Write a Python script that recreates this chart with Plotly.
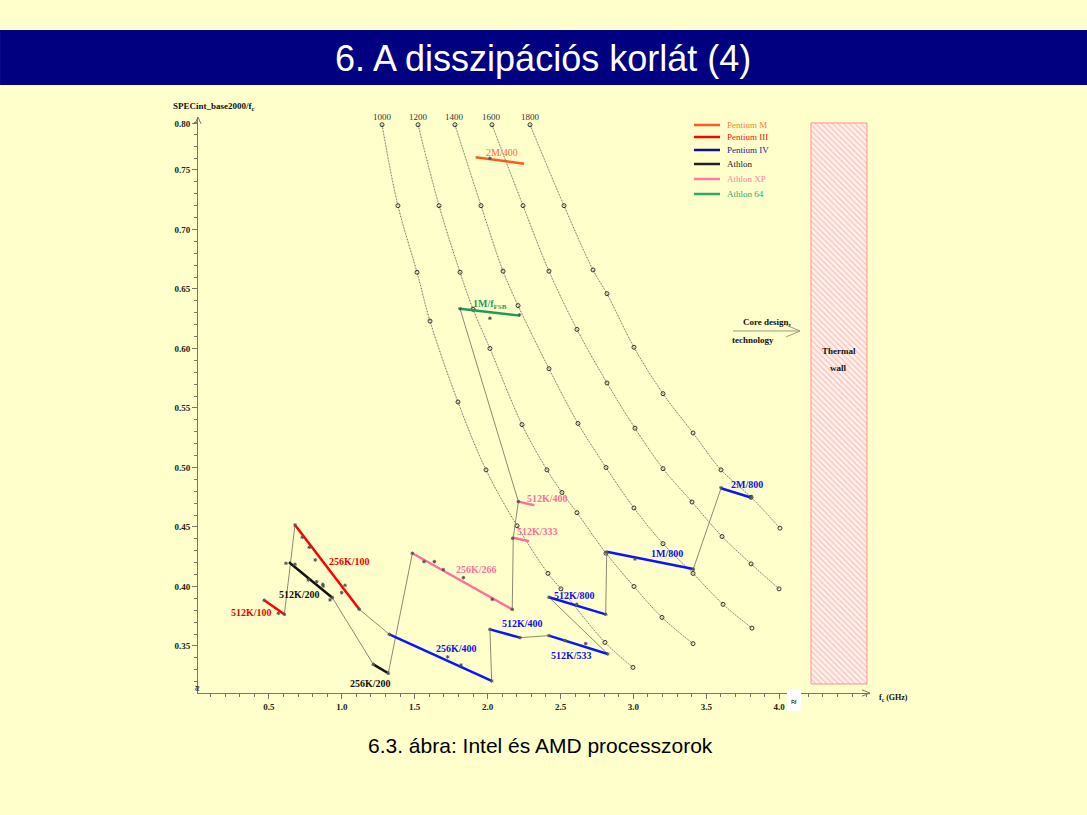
import plotly.graph_objects as go

SERIF = 'Liberation Serif, Times New Roman, serif'
SANS = 'Liberation Sans, Arial, sans-serif'
BG = '#ffffcc'

# iso-performance curves, SPECint_base2000 = const, dots
iso_labels = ['1000', '1200', '1400', '1600', '1800']
f_1000 = [1.276, 1.385, 1.516, 1.605, 1.797, 1.989, 2.202, 2.414, 2.503, 2.805, 2.997]
y_1000 = [0.788, 0.720, 0.664, 0.623, 0.555, 0.498, 0.451, 0.411, 0.398, 0.353, 0.332]
f_1200 = [1.523, 1.667, 1.811, 1.900, 2.016, 2.236, 2.407, 2.510, 2.613, 2.812, 3.004, 3.196, 3.409]
y_1200 = [0.788, 0.720, 0.664, 0.633, 0.600, 0.536, 0.498, 0.479, 0.462, 0.428, 0.400, 0.374, 0.352]
f_1400 = [1.776, 1.955, 2.106, 2.209, 2.421, 2.620, 2.812, 3.004, 3.203, 3.409, 3.615, 3.813]
y_1400 = [0.788, 0.720, 0.665, 0.636, 0.583, 0.537, 0.500, 0.466, 0.436, 0.411, 0.385, 0.365]
f_1600 = [2.030, 2.243, 2.421, 2.613, 2.819, 3.011, 3.203, 3.402, 3.608, 3.807, 3.999]
y_1600 = [0.788, 0.720, 0.665, 0.616, 0.571, 0.533, 0.499, 0.471, 0.442, 0.419, 0.398]
f_1800 = [2.291, 2.524, 2.723, 2.819, 3.004, 3.203, 3.409, 3.601, 3.807, 4.005]
y_1800 = [0.788, 0.720, 0.666, 0.646, 0.601, 0.562, 0.529, 0.498, 0.475, 0.449]

# processor families and their segments (start -> end)
families = ['Pentium M', 'Pentium III', 'Pentium IV', 'Athlon', 'Athlon XP', 'Athlon 64']
seg_labels = ['2M/400', '512K/100', '256K/100', '256K/400', '512K/400', '512K/533', '512K/800',
              '1M/800', '2M/800', '512K/200', '256K/200', '256K/266', '512K/333', '512K/400',
              '1M/f<sub>FSB</sub>']
seg_family = ['Pentium M', 'Pentium III', 'Pentium III', 'Pentium IV', 'Pentium IV', 'Pentium IV',
              'Pentium IV', 'Pentium IV', 'Pentium IV', 'Athlon', 'Athlon', 'Athlon XP', 'Athlon XP',
              'Athlon XP', 'Athlon 64']
seg_f0 = [1.918, 0.468, 0.679, 1.326, 2.016, 2.421, 2.421, 2.817, 3.601, 0.638, 1.216, 1.484, 2.176, 2.211, 1.811]
seg_y0 = [0.7607, 0.3884, 0.4517, 0.3598, 0.3640, 0.3587, 0.3909, 0.4292, 0.4825, 0.4203, 0.3346, 0.4279, 0.4410, 0.4713, 0.6334]
seg_f1 = [2.250, 0.606, 1.120, 2.028, 2.222, 2.824, 2.810, 3.411, 3.811, 0.935, 1.319, 2.169, 2.284, 2.320, 2.222]
seg_y1 = [0.7553, 0.3766, 0.3808, 0.3206, 0.3570, 0.3433, 0.3766, 0.4147, 0.4746, 0.3906, 0.3271, 0.3808, 0.4380, 0.4682, 0.6276]

# thin grey trajectories linking the segments
intel_f = [0.468, 0.606, 0.679, 1.120, 1.326, 2.028, 2.016, 2.222, 2.421, 2.824, 2.421, 2.810, 2.817, 3.411, 3.601, 3.811]
intel_y = [0.3884, 0.3766, 0.4517, 0.3808, 0.3598, 0.3206, 0.3640, 0.3570, 0.3587, 0.3433, 0.3909, 0.3766, 0.4292, 0.4147, 0.4825, 0.4746]
amd_f = [0.638, 0.935, 1.216, 1.319, 1.484, 2.169, 2.176, 2.211, 1.811, 2.222]
amd_y = [0.4203, 0.3906, 0.3346, 0.3271, 0.4279, 0.3808, 0.4410, 0.4713, 0.6334, 0.6276]

# individual processor points
cpu_f = [0.468, 0.565, 0.606, 0.679, 0.729, 0.777, 0.818, 0.873, 0.999, 1.022, 1.120,
         0.617, 0.679, 0.770, 0.828, 0.869, 0.919, 0.935, 1.216, 1.319,
         1.484, 1.564, 1.635, 1.696, 1.834, 2.032, 2.169, 2.172, 2.211,
         1.326, 1.726, 1.818, 2.028, 2.016, 2.222, 2.421, 2.531, 2.673, 2.824,
         2.421, 2.611, 2.810, 2.817, 3.011, 3.411, 3.601, 3.807,
         2.016, 1.811, 2.016, 2.218]
cpu_y = [0.3884, 0.3775, 0.3766, 0.4517, 0.4413, 0.4329, 0.4223, 0.4004, 0.3948, 0.4010, 0.3808,
         0.4195, 0.4187, 0.4055, 0.4040, 0.4018, 0.3887, 0.3906, 0.3346, 0.3271,
         0.4279, 0.4209, 0.4209, 0.4141, 0.4074, 0.3892, 0.3808, 0.4405, 0.4713,
         0.3598, 0.3408, 0.3340, 0.3206, 0.3640, 0.3570, 0.3587, 0.3545, 0.3520, 0.3433,
         0.3910, 0.3850, 0.3766, 0.4287, 0.4231, 0.4145, 0.4830, 0.4746,
         0.7598, 0.6334, 0.6254, 0.6282]

# thermal wall band
wall_f = [4.218, 4.602]
wall_y = [0.3181, 0.7895]

x_ticks = [0.5, 1.0, 1.5, 2.0, 2.5, 3.0, 3.5, 4.0]
y_ticks = [0.35, 0.40, 0.45, 0.50, 0.55, 0.60, 0.65, 0.70, 0.75, 0.789]
y_tick_text = ['0.35', '0.40', '0.45', '0.50', '0.55', '0.60', '0.65', '0.70', '0.75', '0.80']

family_colors = {
    'Pentium M': '#ff5a1e',
    'Pentium III': '#ff0000',
    'Pentium IV': '#0a14ff',
    'Athlon': '#111111',
    'Athlon XP': '#ff6f9a',
    'Athlon 64': '#1f9a5a',
}
legend_line_colors = {
    'Pentium M': '#ff5a1e', 'Pentium III': '#ff0000', 'Pentium IV': '#101090',
    'Athlon': '#222222', 'Athlon XP': '#ff7aa4', 'Athlon 64': '#30a868',
}
legend_text_colors = {
    'Pentium M': '#ff7a40', 'Pentium III': '#ff1010', 'Pentium IV': '#1a1a90',
    'Athlon': '#222222', 'Athlon XP': '#ff80a8', 'Athlon 64': '#30a868',
}
label_colors = {
    'Pentium M': '#ff6a30', 'Pentium III': '#ee0000', 'Pentium IV': '#1010ee',
    'Athlon': '#111111', 'Athlon XP': '#ff6f9a', 'Athlon 64': '#1f9a5a',
}

fig = go.Figure()

iso_f = [f_1000, f_1200, f_1400, f_1600, f_1800]
iso_y = [y_1000, y_1200, y_1400, y_1600, y_1800]
for lab, fs, ys in zip(iso_labels, iso_f, iso_y):
    fig.add_trace(go.Scatter(x=fs, y=ys, mode='lines', showlegend=False, hoverinfo='skip',
                             line=dict(color='#d4d0b0', width=1, shape='spline')))
    fig.add_trace(go.Scatter(x=fs, y=ys, mode='lines+markers', showlegend=False, name=lab,
                             line=dict(color='#6e6e5e', width=1, dash='1px,2px', shape='spline'),
                             marker=dict(symbol='circle-open', size=4, color='#333333', line=dict(width=1))))

for px, py in [(intel_f, intel_y), (amd_f, amd_y)]:
    fig.add_trace(go.Scatter(x=px, y=py, mode='lines', showlegend=False, hoverinfo='skip',
                             line=dict(color='#8c8a72', width=1)))

fig.add_trace(go.Scatter(x=wall_f + wall_f[::-1] + wall_f[:1],
                         y=[wall_y[0], wall_y[0], wall_y[1], wall_y[1], wall_y[0]],
                         mode='lines', fill='toself', showlegend=False, hoverinfo='skip',
                         line=dict(color='#ff9090', width=1),
                         fillpattern=dict(shape='\\', fgcolor='#ff8080', bgcolor='#fff4ec',
                                          size=4, solidity=0.3)))

for fam in families:
    xs, ys = [], []
    for i, sf in enumerate(seg_family):
        if sf == fam:
            xs += [seg_f0[i], seg_f1[i], None]
            ys += [seg_y0[i], seg_y1[i], None]
    fig.add_trace(go.Scatter(x=xs, y=ys, mode='lines', name=fam, showlegend=False,
                             line=dict(color=family_colors[fam], width=2.5)))

fig.add_trace(go.Scatter(x=cpu_f, y=cpu_y, mode='markers', showlegend=False,
                         marker=dict(symbol='asterisk-open', size=3, color='#555555',
                                     line=dict(width=1, color='#555555'))))

# segment labels
label_pos = [(2.097, 0.7645), (0.379, 0.3780), (1.056, 0.4208), (1.788, 0.3475), (2.238, 0.3687),
             (2.577, 0.3418), (2.593, 0.3926), (3.233, 0.4276), (3.777, 0.4853), (0.708, 0.3929),
             (1.198, 0.3189), (1.925, 0.4141), (2.344, 0.4461), (2.409, 0.4741), (2.016, 0.6366)]
annotations = []
for lab, fam, (ax_, ay_) in zip(seg_labels, seg_family, label_pos):
    txt = lab if fam == 'Pentium M' else f'<b>{lab}</b>'
    annotations.append(dict(x=ax_, y=ay_, text=txt, showarrow=False,
                            font=dict(family=SERIF, size=10, color=label_colors[fam])))

for lab, fs, ys in zip(iso_labels, iso_f, iso_y):
    annotations.append(dict(x=fs[0], y=ys[0], text=lab, showarrow=False, yanchor='bottom', yshift=1,
                            font=dict(family=SERIF, size=9, color='#333333')))

# hand-drawn legend (rows are tighter than plotly's own legend allows)
legend_rows_y = [0.9861, 0.9653, 0.9427, 0.9184, 0.8924, 0.8663]
shapes = []
for fam, ly in zip(families, legend_rows_y):
    shapes.append(dict(type='line', xref='paper', yref='paper', x0=0.738, x1=0.7768, y0=ly, y1=ly,
                       line=dict(color=legend_line_colors[fam], width=2.5)))
    annotations.append(dict(x=0.784, y=ly, xref='paper', yref='paper', xanchor='left', yanchor='middle',
                            text=fam, showarrow=False,
                            font=dict(family=SERIF, size=9, color=legend_text_colors[fam])))

annotations += [
    dict(x=3.916, y=0.6223, text='<b>Core design,</b>', showarrow=False,
         font=dict(family=SERIF, size=9, color='#111111')),
    dict(x=3.820, y=0.6071, text='<b>technology</b>', showarrow=False,
         font=dict(family=SERIF, size=9, color='#111111')),
    dict(x=4.41, y=0.5981, text='<b>Thermal</b>', showarrow=False,
         font=dict(family=SERIF, size=9, color='#111111')),
    dict(x=4.41, y=0.5838, text='<b>wall</b>', showarrow=False,
         font=dict(family=SERIF, size=9, color='#111111')),
    # title and caption
    dict(x=0.514, y=1.1024, xref='paper', yref='paper', xanchor='center', yanchor='middle',
         text='6. A disszipációs korlát (4)',
         showarrow=False, font=dict(family=SANS, size=36, color='white')),
    dict(x=0.509, y=-0.092, xref='paper', yref='paper', xanchor='center', yanchor='middle',
         text='6.3. ábra: Intel és AMD processzorok',
         showarrow=False, font=dict(family=SANS, size=21, color='black')),
    # axis titles
    dict(x=-0.04, y=1.019, xref='paper', yref='paper', xanchor='left', yanchor='middle',
         text='<b>SPECint_base2000/f<sub>c</sub></b>', showarrow=False,
         font=dict(family=SERIF, size=9, color='#111111')),
    dict(x=1.01, y=-0.0087, xref='paper', yref='paper', xanchor='left', yanchor='middle',
         text='<b>f<sub>c</sub></b> <b>(GHz)</b>', showarrow=False,
         font=dict(family=SERIF, size=8, color='#111111')),
    dict(x=0.8869, y=-0.0156, xref='paper', yref='paper', xanchor='center', yanchor='middle',
         text='<b>≈</b>', showarrow=False,
         font=dict(family=SERIF, size=10, color='#111111')),
    dict(x=0.0, y=0.008, xref='paper', yref='paper', xanchor='center', yanchor='middle',
         text='<b>≈</b>', showarrow=False, textangle=90,
         font=dict(family=SERIF, size=10, color='#111111')),
]

shapes += [
    dict(type='rect', xref='paper', yref='paper', x0=-0.2946, x1=1.3229, y0=1.0556, y1=1.151,
         fillcolor='#000080', line=dict(width=0), layer='below'),
    dict(type='rect', xref='paper', yref='paper', x0=0.8765, x1=0.8973, y0=-0.03125, y1=0.0069,
         fillcolor='white', line=dict(width=0)),
    # core design arrow
    dict(type='line', x0=3.683, x1=4.143, y0=0.6147, y1=0.6147, line=dict(color='#9a9a80', width=1)),
    dict(type='line', x0=4.047, x1=4.143, y0=0.6197, y1=0.6147, line=dict(color='#9a9a80', width=1)),
    dict(type='line', x0=4.047, x1=4.143, y0=0.6097, y1=0.6147, line=dict(color='#9a9a80', width=1)),
    # axis arrow heads
    dict(type='line', xref='paper', yref='paper', x0=-0.0045, x1=0.0, y0=0.988, y1=1.0,
         line=dict(color='#777766', width=1)),
    dict(type='line', xref='paper', yref='paper', x0=0.0045, x1=0.0, y0=0.988, y1=1.0,
         line=dict(color='#777766', width=1)),
    dict(type='line', xref='paper', yref='paper', x0=0.988, x1=1.0, y0=0.0055, y1=0.0,
         line=dict(color='#777766', width=1)),
    dict(type='line', xref='paper', yref='paper', x0=0.988, x1=1.0, y0=-0.0055, y1=0.0,
         line=dict(color='#777766', width=1)),
]

x_range = [0.0137, 4.6228]
y_range = [0.3105, 0.7945]
axis_col = '#777766'

fig.update_layout(
    width=1087, height=815, autosize=False,
    margin=dict(l=198, r=217, t=117, b=122),
    paper_bgcolor=BG, plot_bgcolor=BG,
    annotations=annotations, shapes=shapes,
    showlegend=False,
    xaxis=dict(range=x_range, showgrid=False, zeroline=False, showline=True, linecolor=axis_col,
               ticks='outside', ticklen=5, tickcolor=axis_col, tickvals=x_ticks,
               ticktext=[f'<b>{v:.1f}</b>' for v in x_ticks],
               tickfont=dict(family=SERIF, size=9, color='#222222'),
               minor=dict(dtick=0.1, tick0=0, ticks='outside', ticklen=3, tickcolor=axis_col)),
    yaxis=dict(range=y_range, showgrid=False, zeroline=False, showline=True, linecolor=axis_col,
               ticks='outside', ticklen=5, tickcolor=axis_col, tickvals=y_ticks,
               ticktext=[f'<b>{t}</b>' for t in y_tick_text],
               tickfont=dict(family=SERIF, size=9, color='#222222'),
               minor=dict(dtick=0.01, tick0=0, ticks='outside', ticklen=3, tickcolor=axis_col)),
    xaxis2=dict(range=x_range, overlaying='x', anchor='y', side='bottom', showgrid=False,
                zeroline=False, showticklabels=False, ticks='inside', ticklen=5, tickcolor=axis_col,
                tickvals=x_ticks,
                minor=dict(dtick=0.1, tick0=0, ticks='inside', ticklen=3, tickcolor=axis_col)),
    yaxis2=dict(range=y_range, overlaying='y', anchor='x', side='left', showgrid=False,
                zeroline=False, showticklabels=False, ticks='inside', ticklen=5, tickcolor=axis_col,
                tickvals=y_ticks,
                minor=dict(dtick=0.01, tick0=0, ticks='inside', ticklen=3, tickcolor=axis_col)),
)

fig.write_html('out.html', config={'displayModeBar': False},
               post_script="document.body.style.margin='0';document.body.style.background='#ffffcc';")
